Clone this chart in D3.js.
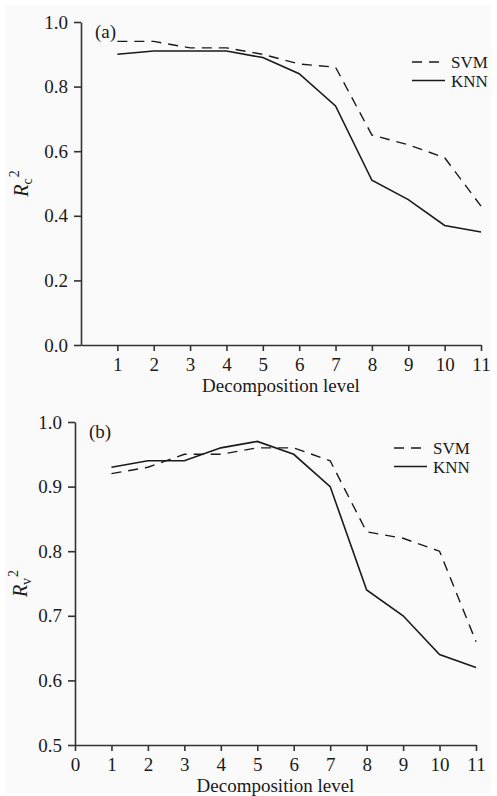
<!DOCTYPE html>
<html>
<head>
<meta charset="utf-8">
<script src="https://cdn.jsdelivr.net/npm/d3@7"></script>
<style>
  body { margin: 0; background: #fff; }
  svg { display: block; }
  text { font-family: "Times New Roman", "Liberation Serif", Tinos, "Nimbus Roman", Times, "DejaVu Serif", serif; fill: #1a1a1a; }
</style>
</head>
<body>
<svg id="chart"></svg>
<script>
// data
const levels = [1, 2, 3, 4, 5, 6, 7, 8, 9, 10, 11];
const svmA = [0.94, 0.94, 0.92, 0.92, 0.90, 0.87, 0.86, 0.65, 0.62, 0.58, 0.43];
const knnA = [0.90, 0.91, 0.91, 0.91, 0.89, 0.84, 0.74, 0.51, 0.45, 0.37, 0.35];
const svmB = [0.92, 0.93, 0.95, 0.95, 0.96, 0.96, 0.94, 0.83, 0.82, 0.80, 0.66];
const knnB = [0.93, 0.94, 0.94, 0.96, 0.97, 0.95, 0.90, 0.74, 0.70, 0.64, 0.62];
const xTicksA = [1, 2, 3, 4, 5, 6, 7, 8, 9, 10, 11];
const xTicksB = [0, 1, 2, 3, 4, 5, 6, 7, 8, 9, 10, 11];
const yTicksA = [0, 0.2, 0.4, 0.6, 0.8, 1.0];
const yTicksB = [0.5, 0.6, 0.7, 0.8, 0.9, 1.0];
const seriesNames = ['SVM', 'KNN'];

const width = 497;
const height = 796;
const ink = '#1a1a1a';
const serif = '"Times New Roman", "Liberation Serif", Tinos, Times, serif';

const svg = d3.select('#chart')
    .attr('width', width)
    .attr('height', height);

svg.append('rect')
    .attr('x', 5).attr('y', 5)
    .attr('width', 486).attr('height', 788)
    .attr('fill', '#fafafa');

function panel(opt) {
    const x = d3.scaleLinear().domain([0, 11]).range([opt.left, opt.right]);
    const y = d3.scaleLinear().domain(opt.yDomain).range([opt.bottom, opt.top]);
    const g = svg.append('g');

    const xAxis = d3.axisBottom(x)
        .tickValues(opt.xTicks)
        .tickFormat(d3.format('d'))
        .tickSize(6)
        .tickSizeOuter(0)
        .tickPadding(7);
    const yAxis = d3.axisLeft(y)
        .tickValues(opt.yTicks)
        .tickFormat(d3.format('.1f'))
        .tickSize(7)
        .tickSizeOuter(0)
        .tickPadding(6);

    const gx = g.append('g')
        .attr('transform', `translate(0,${opt.bottom})`)
        .call(xAxis);
    const gy = g.append('g')
        .attr('transform', `translate(${opt.left},0)`)
        .call(yAxis);

    [gx, gy].forEach(a => {
        a.attr('font-family', null).attr('font-size', null);
        a.selectAll('path, line').attr('stroke', '#333').attr('stroke-width', 1.6);
        a.selectAll('text')
            .attr('fill', ink)
            .style('font-size', '19px')
            .style('font-family', serif);
    });

    const line = d3.line()
        .x((d, i) => x(levels[i]))
        .y(d => y(d));

    g.append('path')
        .datum(opt.svm)
        .attr('d', line)
        .attr('fill', 'none')
        .attr('stroke', ink)
        .attr('stroke-width', 1.4)
        .attr('stroke-dasharray', '10,7');
    g.append('path')
        .datum(opt.knn)
        .attr('d', line)
        .attr('fill', 'none')
        .attr('stroke', ink)
        .attr('stroke-width', 1.6);

    // legend
    const lg = g.append('g');
    seriesNames.forEach((name, i) => {
        const ly = opt.legY + i * 18.5;
        lg.append('line')
            .attr('x1', opt.legX).attr('x2', opt.legX + 33)
            .attr('y1', ly).attr('y2', ly)
            .attr('stroke', ink)
            .attr('stroke-width', i === 0 ? 1.4 : 1.6)
            .attr('stroke-dasharray', i === 0 ? '10,7' : null);
        lg.append('text')
            .attr('x', opt.legX + 39)
            .attr('y', ly + 6)
            .style('font-size', '17px')
            .style('font-family', serif)
            .text(name);
    });

    // panel letter
    g.append('text')
        .attr('x', opt.left + 14)
        .attr('y', opt.top + 16)
        .style('font-size', '19px')
        .style('font-family', serif)
        .text(opt.tag);

    // x title
    g.append('text')
        .attr('x', (opt.left + opt.right) / 2)
        .attr('y', opt.bottom + 47)
        .attr('text-anchor', 'middle')
        .style('font-size', '19px')
        .style('font-family', serif)
        .text('Decomposition level');

    // y title
    const yt = g.append('text')
        .attr('transform', `translate(${opt.yLabX},${(opt.top + opt.bottom) / 2}) rotate(-90)`)
        .attr('text-anchor', 'middle')
        .style('font-size', '20px')
        .style('font-family', serif);
    yt.append('tspan').style('font-style', 'italic').text('R');
    yt.append('tspan').attr('dy', 4).style('font-size', '14px').text(opt.sub);
    yt.append('tspan').attr('dy', -13).attr('dx', 1).style('font-size', '14px').text('2');
}

panel({
    left: 81, right: 481, top: 22, bottom: 345,
    yDomain: [0, 1], xTicks: xTicksA, yTicks: yTicksA,
    svm: svmA, knn: knnA, tag: '(a)', sub: 'c',
    legX: 412, legY: 62, yLabX: 28
});

panel({
    left: 75, right: 476, top: 422, bottom: 745,
    yDomain: [0.5, 1], xTicks: xTicksB, yTicks: yTicksB,
    svm: svmB, knn: knnB, tag: '(b)', sub: 'v',
    legX: 394, legY: 448, yLabX: 27
});
</script>
</body>
</html>
